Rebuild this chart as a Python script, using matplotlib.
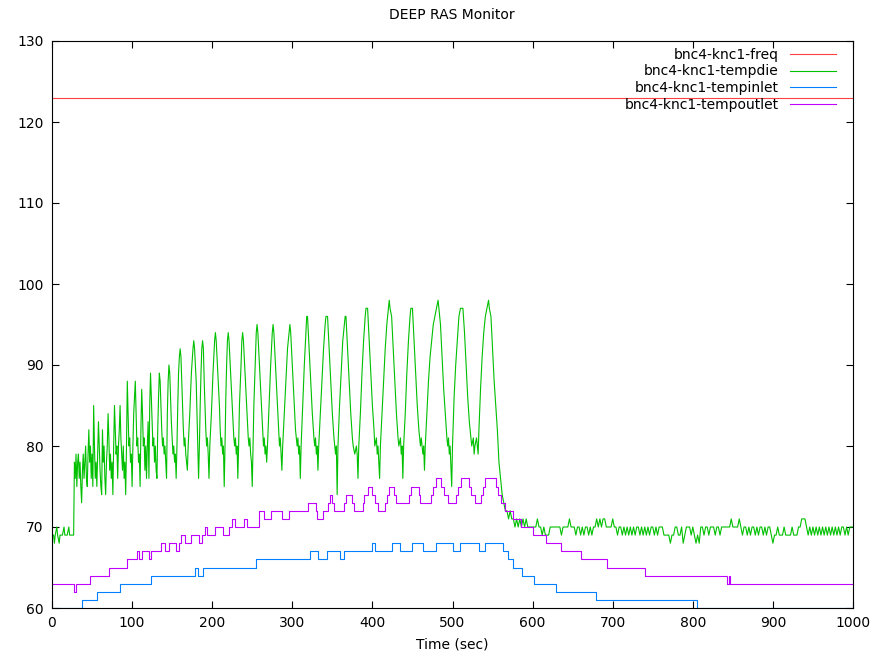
import numpy as np
import matplotlib.pyplot as plt

# bnc4-knc1-freq stays flat for the whole run
freq_time = [0, 1000]
freq_value = [123, 123]

# bnc4-knc1-tempdie, idle before the load starts
die_idle_time = [0, 2, 3, 4, 6, 7, 9, 10, 13, 15, 16, 19, 21, 22, 27]
die_idle_temp = [69, 69, 68, 69, 70, 69, 68, 69, 69, 70, 69, 69, 70, 69, 69]

# tempdie, one sample per second from 28 s to 155 s
die_warm_start = 28
die_warm_temp = [
    78, 76, 79, 75, 78, 79, 76, 78, 75, 73,
    77, 79, 76, 78, 80, 76, 75, 79, 82, 78,
    80, 76, 79, 75, 85, 80, 76, 78, 75, 79,
    83, 80, 77, 75, 74, 82, 78, 80, 76, 74,
    78, 80, 84, 81, 77, 79, 76, 78, 74, 80,
    85, 82, 79, 80, 76, 80, 82, 85, 81, 79,
    77, 80, 76, 78, 74, 80, 88, 84, 80, 81,
    78, 79, 75, 80, 84, 86, 88, 84, 80, 81,
    78, 79, 75, 82, 87, 84, 80, 81, 77, 80,
    76, 80, 83, 76, 85, 89, 86, 83, 80, 81,
    78, 80, 77, 76, 82, 86, 89, 88, 85, 82,
    80, 81, 79, 80, 78, 76, 84, 88, 90, 89,
    86, 83, 81, 79, 80, 78, 79, 76,
]

# tempdie, the load cycles
die_cycle_time = [
    156, 157, 158, 159, 160, 161, 162, 163, 164, 165,
    166, 167, 168, 169, 170, 172, 174, 176, 177, 178,
    180, 181, 182, 183, 184, 185, 186, 187, 188, 189,
    190, 191, 192, 193, 194, 195, 196, 197, 199, 201,
    203, 204, 205, 207, 209, 210, 211, 212, 213, 214,
    215, 216, 217, 218, 219, 220, 221, 223, 225, 227,
    228, 229, 230, 231, 232, 233, 234, 236, 237, 238,
    239, 241, 243, 245, 246, 247, 248, 249, 250, 251,
    252, 254, 255, 256, 257, 259, 261, 263, 264, 265,
    266, 267, 268, 269, 271, 273, 275, 276, 277, 279,
    281, 283, 284, 285, 286, 287, 288, 290, 292, 294,
    296, 297, 298, 300, 302, 304, 306, 307, 308, 309,
    310, 311, 313, 315, 317, 318, 319, 321, 323, 325,
    327, 328, 329, 330, 331, 332, 333, 335, 337, 339,
    341, 342, 344, 346, 348, 350, 352, 353, 354, 355,
    356, 357, 359, 361, 363, 365, 366, 367, 369, 371,
    373, 375, 376, 378, 380, 381, 382, 383, 385, 387,
    389, 391, 392, 394, 396, 398, 400, 402, 403, 405,
    406, 407, 409, 410, 412, 414, 416, 418, 420, 421,
    422, 424, 426, 428, 430, 432, 433, 435, 436, 437,
    438, 439, 441, 443, 445, 447, 448, 450, 452, 454,
    456, 458, 460, 461, 463, 464, 465, 466, 468, 470,
    472, 474, 476, 478, 480, 482, 483, 485, 487, 489,
    491, 493, 494, 495, 496, 497, 499, 500, 502, 504,
    506, 508, 510, 513, 515, 517, 519, 521, 523, 524,
    526, 527, 528, 530, 532, 533, 535, 537, 539, 541,
    543, 545, 546, 548, 550, 552, 554, 556, 558, 560,
    562, 564, 566, 568, 570, 572, 574, 576, 578, 580,
    582, 584, 586, 588, 590, 592, 594, 596, 598,
]
die_cycle_temp = [
    80, 85, 89, 91, 92, 91, 88, 85, 82, 80,
    81, 79, 78, 77, 80, 84, 89, 92, 93, 92,
    88, 84, 80, 76, 80, 85, 89, 92, 93, 92,
    88, 85, 82, 80, 81, 79, 76, 80, 84, 89,
    93, 94, 93, 89, 85, 82, 80, 81, 79, 80,
    75, 80, 86, 90, 93, 94, 93, 89, 85, 81,
    80, 81, 79, 80, 76, 80, 85, 90, 93, 94,
    93, 89, 85, 81, 80, 81, 79, 78, 75, 80,
    85, 91, 94, 95, 94, 90, 86, 82, 80, 81,
    79, 80, 78, 80, 85, 90, 94, 95, 94, 90,
    86, 82, 80, 81, 79, 77, 80, 84, 88, 92,
    94, 95, 94, 90, 86, 82, 80, 81, 79, 80,
    76, 80, 85, 90, 94, 96, 96, 92, 88, 84,
    81, 80, 81, 79, 80, 77, 80, 84, 88, 92,
    95, 96, 96, 92, 88, 84, 81, 80, 79, 80,
    74, 80, 85, 89, 93, 95, 96, 96, 92, 88,
    84, 81, 80, 79, 80, 79, 76, 80, 84, 89,
    93, 96, 97, 97, 93, 89, 85, 82, 80, 81,
    79, 80, 76, 80, 84, 88, 92, 95, 97, 98,
    97, 96, 92, 88, 84, 81, 80, 81, 79, 80,
    76, 80, 84, 89, 93, 96, 97, 97, 93, 89,
    85, 82, 80, 81, 79, 80, 77, 80, 84, 88,
    91, 93, 95, 96, 97, 98, 97, 95, 91, 87,
    84, 81, 80, 81, 79, 80, 75, 80, 86, 90,
    93, 96, 97, 97, 94, 90, 86, 83, 81, 80,
    81, 79, 80, 81, 79, 82, 87, 91, 94, 96,
    97, 98, 97, 96, 92, 88, 85, 82, 78, 76,
    74, 73, 72, 72, 71, 72, 71, 71, 70, 71,
    70, 71, 70, 71, 70, 71, 70, 70, 70,
]

# tempdie back at idle, one sample every 2 s from 600 s to 1000 s
die_tail_start = 600
die_tail_temp = [
    70, 70, 70, 71, 70, 70, 69, 70, 69, 69,
    69, 70, 70, 70, 70, 70, 70, 70, 69, 70,
    70, 70, 70, 71, 70, 70, 70, 69, 70, 70,
    69, 70, 69, 70, 70, 69, 70, 69, 70, 70,
    71, 70, 71, 70, 71, 71, 70, 70, 70, 70,
    71, 70, 70, 69, 70, 70, 69, 70, 69, 70,
    69, 70, 69, 70, 69, 70, 70, 69, 70, 69,
    70, 69, 70, 69, 70, 70, 69, 70, 69, 70,
    70, 70, 69, 69, 69, 69, 68, 69, 69, 70,
    70, 69, 69, 70, 68, 69, 70, 70, 70, 69,
    70, 69, 68, 69, 68, 70, 70, 69, 70, 70,
    69, 70, 70, 70, 69, 70, 70, 69, 70, 70,
    70, 70, 70, 70, 71, 70, 70, 70, 70, 71,
    70, 69, 70, 70, 69, 70, 69, 70, 70, 69,
    70, 69, 70, 70, 69, 70, 69, 70, 70, 69,
    68, 69, 69, 70, 69, 69, 69, 70, 69, 69,
    69, 69, 70, 69, 69, 69, 70, 70, 71, 71,
    71, 70, 69, 70, 69, 70, 69, 70, 69, 70,
    69, 70, 69, 70, 69, 70, 69, 70, 69, 70,
    69, 70, 69, 70, 70, 69, 70, 69, 70, 70,
    70,
]

# tempinlet / tempoutlet only change in whole degrees: time of each change
inlet_time = [0, 38, 56, 85, 124, 179, 182, 189, 255, 322, 332, 343, 360,
              364, 400, 403, 425, 434, 449, 463, 479, 500, 509, 533, 541,
              563, 569, 576, 587, 602, 629, 679, 805, 1000]
inlet_temp = [60, 61, 62, 63, 64, 65, 64, 65, 66, 67, 66, 67, 66,
              67, 68, 67, 68, 67, 68, 67, 68, 67, 68, 67, 68,
              67, 66, 65, 64, 63, 62, 61, 60, 60]

outlet_time = [0, 28, 30, 47, 71, 94, 106, 109, 112, 121, 124, 136, 141,
               146, 155, 159, 161, 166, 174, 183, 187, 191, 194, 204, 214,
               221, 225, 228, 240, 244, 258, 265, 273, 287, 296, 320, 329,
               331, 338, 344, 347, 350, 352, 364, 367, 375, 377, 388, 390,
               394, 400, 403, 407, 416, 418, 421, 427, 430, 446, 448, 458,
               460, 473, 476, 479, 486, 489, 495, 504, 507, 511, 521, 523,
               528, 535, 538, 541, 554, 557, 561, 565, 575, 586, 600, 617,
               636, 661, 693, 740, 843, 845, 847, 1000]
outlet_temp = [63, 62, 63, 64, 65, 66, 67, 66, 67, 66, 67, 68, 67,
               68, 67, 68, 69, 68, 69, 68, 69, 70, 69, 70, 69,
               70, 71, 70, 71, 70, 72, 71, 72, 71, 72, 73, 72,
               71, 72, 73, 74, 73, 72, 73, 74, 73, 72, 73, 74,
               75, 74, 73, 72, 73, 74, 75, 74, 73, 74, 75, 74,
               73, 74, 75, 76, 75, 74, 73, 74, 75, 76, 75, 74,
               73, 74, 75, 76, 75, 74, 73, 72, 71, 70, 69, 68,
               67, 66, 65, 64, 63, 64, 63, 63]

die_time = np.concatenate([
    die_idle_time,
    np.arange(len(die_warm_temp)) + die_warm_start,
    die_cycle_time,
    np.arange(len(die_tail_temp)) * 2 + die_tail_start,
])
die_temp = np.concatenate([die_idle_temp, die_warm_temp, die_cycle_temp, die_tail_temp])

fig = plt.figure(figsize=(8.78, 6.62), dpi=100)
ax = fig.add_axes([52 / 878, 1 - 608 / 662, 801 / 878, 567 / 662])

lw = 0.8
ax.plot(freq_time, freq_value, color="#ff4040", lw=lw, label="bnc4-knc1-freq")
ax.plot(die_time, die_temp, color="#00c000", lw=lw, label="bnc4-knc1-tempdie")
ax.plot(inlet_time, inlet_temp, color="#0080ff", lw=lw, drawstyle="steps-post",
        label="bnc4-knc1-tempinlet")
ax.plot(outlet_time, outlet_temp, color="#c000ff", lw=lw, drawstyle="steps-post",
        label="bnc4-knc1-tempoutlet")

ax.set_xlim(0, 1000)
ax.set_ylim(60, 130)
ax.set_xticks(np.arange(0, 1001, 100))
ax.set_yticks(np.arange(60, 131, 10))
ax.tick_params(direction="in", length=5, width=0.8, top=True, right=True,
               labelsize=10, pad=6)
for s in ax.spines.values():
    s.set_linewidth(0.8)

ax.set_xlabel("Time (sec)", fontsize=10, labelpad=5)
fig.text(452 / 878, 1 - 15 / 662, "DEEP RAS Monitor", ha="center", va="center",
         fontsize=10)

ax.legend(loc="upper right", frameon=False, markerfirst=False, fontsize=10,
          handlelength=3.3, handletextpad=0.8, labelspacing=0.2,
          borderaxespad=0.2, bbox_to_anchor=(0.989, 1.003))

fig.savefig("out.png", dpi=100)
